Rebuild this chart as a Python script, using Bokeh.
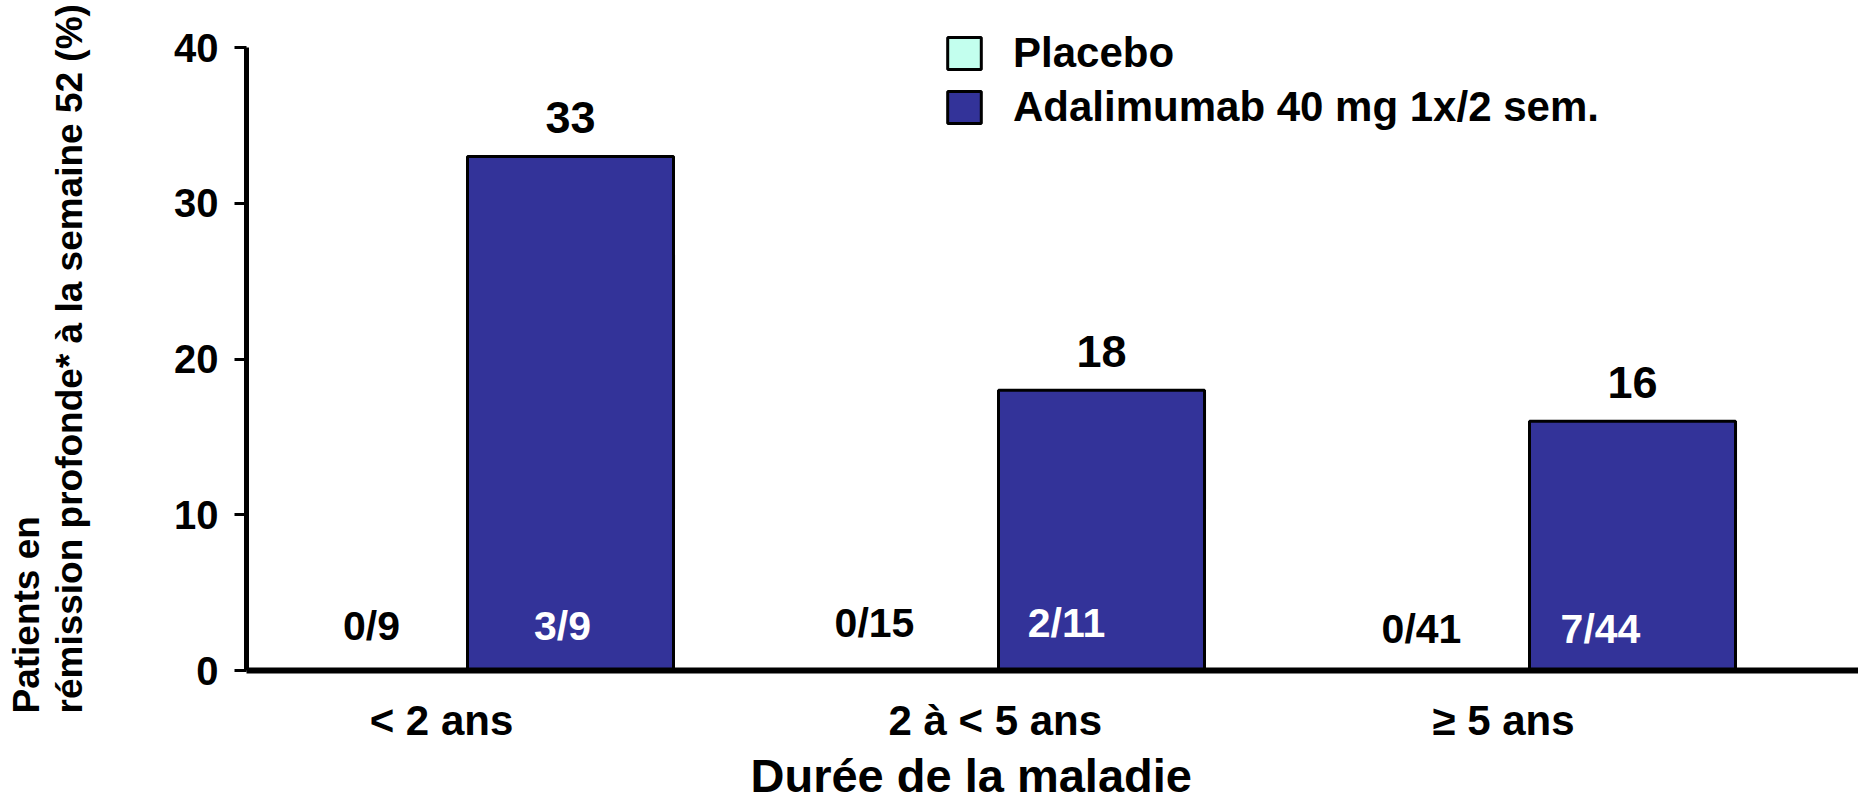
import numpy as np
from bokeh.plotting import figure
from bokeh.models import (ColumnDataSource, Range1d, FixedTicker, Legend, LegendItem,
                          LinearAxis, Title)
from bokeh.core.properties import value
from bokeh.embed import file_html
from bokeh.resources import INLINE

# ---- data ----
categories = ["< 2 ans", "2 à < 5 ans", "≥ 5 ans"]
placebo = [0, 0, 0]
adalimumab = [33, 18, 16]
placebo_n = ["0/9", "0/15", "0/41"]
adalimumab_n = ["3/9", "2/11", "7/44"]
y_ticks = [0, 10, 20, 30, 40]
series_names = ["Placebo", "Adalimumab 40 mg 1x/2 sem."]
y_title = ["Patients en", "rémission profonde* à la semaine 52 (%)"]
x_title = "Durée de la maladie"

# ---- style / layout ----
FONT = "Liberation Sans"
C_PL = "#C3FFEE"
C_AD = "#333399"
W, H = 1858, 807
FRAME_L = 246          # page x of y axis
FRAME_B = 670          # page y of x axis
Y_TOP40 = 47           # page y of the 40 tick
UNIT_PX = 531.0        # px per category
X0_PX = 467.0          # page x of first category centre
PX_PER_Y = (FRAME_B - Y_TOP40) / 40.0

# small per-label nudges (screen px) to mimic the original text boxes
pl_dx = [7, -21, -5]
ad_dx = [-8, -35, -32]
n_dy = [0, -3, 3]
cat_shift = [-0.049, -0.006, -0.049]

idx = np.arange(len(categories))
bw = 0.388
pl_x = idx - bw / 2
ad_x = idx + bw / 2

x_start = (FRAME_L - X0_PX) / UNIT_PX
x_end = (W - X0_PX) / UNIT_PX

p = figure(width=W, height=H, output_backend="svg", toolbar_location=None,
           x_range=Range1d(x_start, x_end),
           y_range=Range1d(0, 40 + Y_TOP40 / PX_PER_Y),
           min_border_left=FRAME_L, min_border_right=0, min_border_top=0,
           min_border_bottom=H - FRAME_B)
p.outline_line_color = None
p.xgrid.visible = False
p.ygrid.visible = False
p.background_fill_color = "white"

src_pl = ColumnDataSource(dict(x=pl_x, top=placebo, n=placebo_n, dx=pl_dx, dy=n_dy))
src_ad = ColumnDataSource(dict(x=ad_x, top=adalimumab, n=adalimumab_n, dx=ad_dx, dy=n_dy,
                               v=[str(v) for v in adalimumab]))

r_pl = p.vbar(x="x", top="top", bottom=0, width=bw, source=src_pl,
              fill_color=C_PL, line_color="black", line_width=3)
r_ad = p.vbar(x="x", top="top", bottom=0, width=bw, source=src_ad,
              fill_color=C_AD, line_color="black", line_width=3)

# value labels above bars
p.text(x="x", y="top", text="v", source=src_ad, text_align="center",
       text_baseline="alphabetic", y_offset=-39, text_font=value(FONT),
       text_font_style="bold", text_font_size="45px", text_color="black")

# n labels near the bottom
lab_y = 2.85
p.text(x="x", y=lab_y, text="n", source=src_pl, text_align="center",
       x_offset="dx", y_offset="dy",
       text_baseline="middle", text_font=value(FONT), text_font_style="bold",
       text_font_size="41px", text_color="black")
p.text(x="x", y=lab_y, text="n", source=src_ad, text_align="center",
       x_offset="dx", y_offset="dy",
       text_baseline="middle", text_font=value(FONT), text_font_style="bold",
       text_font_size="41px", text_color="white")

# ---- x axis (category labels) ----
xa = p.xaxis[0]
tick_pos = [float(i + s) for i, s in zip(idx, cat_shift)]
xa.ticker = FixedTicker(ticks=tick_pos)
xa.major_label_overrides = {t: c for t, c in zip(tick_pos, categories)}
xa.major_tick_line_color = None
xa.major_tick_out = 0
xa.major_tick_in = 0
xa.minor_tick_line_color = None
xa.axis_line_width = 6
xa.axis_line_color = "black"
xa.major_label_standoff = 26
xa.major_label_text_font = FONT
xa.major_label_text_font_style = "bold"
xa.major_label_text_font_size = "42px"
xa.major_label_text_color = "black"

# x title, placed where the original has it
p.add_layout(Title(text=x_title, align="left", vertical_align="bottom",
                   offset=504, standoff=0, text_font=FONT, text_font_style="bold",
                   text_font_size="47px", text_color="black"), "below")

# ---- y axis ----
ya = p.yaxis[0]
ya.ticker = FixedTicker(ticks=y_ticks)
ya.bounds = (0, 40)
ya.minor_tick_line_color = None
ya.major_tick_in = 0
ya.major_tick_out = 12
ya.major_tick_line_width = 3
ya.axis_line_width = 5
ya.axis_line_color = "black"
ya.major_label_standoff = 16
ya.major_label_text_font = FONT
ya.major_label_text_font_style = "bold"
ya.major_label_text_font_size = "40px"
ya.major_label_text_color = "black"

# blank spacer axis between the tick labels and the y title (white tick, no label)
sp = LinearAxis(ticker=FixedTicker(ticks=[20]))
sp.axis_line_color = None
sp.major_tick_line_color = "white"
sp.major_tick_line_width = 1
sp.minor_tick_line_color = None
sp.major_tick_in = 0
sp.major_tick_out = 78
sp.minor_tick_out = 0
sp.major_label_standoff = 0
sp.major_label_text_font_size = "1px"
sp.major_label_text_color = "white"
p.add_layout(sp, "left")

# y title: two left-justified lines, second line nearest the axis
for txt in (y_title[1], y_title[0]):
    p.add_layout(Title(text=txt, align="left", vertical_align="bottom",
                       offset=-43, standoff=0, text_font=FONT, text_font_style="bold",
                       text_font_size="37px", text_color="black"), "left")

# ---- legend ----
legend = Legend(items=[LegendItem(label=series_names[0], renderers=[r_pl]),
                       LegendItem(label=series_names[1], renderers=[r_ad])],
                location=(943 - FRAME_L, FRAME_B - 131))
legend.label_text_font = FONT
legend.label_text_font_style = "bold"
legend.label_text_font_size = "42px"
legend.label_text_color = "black"
legend.glyph_width = 42
legend.glyph_height = 40
legend.label_standoff = 28
legend.spacing = 6
legend.padding = 0
legend.margin = 0
legend.border_line_color = None
legend.background_fill_alpha = 0
p.add_layout(legend)

open("out.html", "w").write(file_html(p, INLINE))
